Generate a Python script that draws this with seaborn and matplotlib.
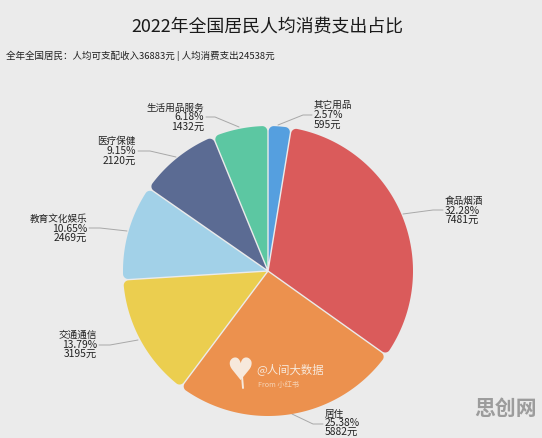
import numpy as np
import matplotlib
matplotlib.use("Agg")
import matplotlib.pyplot as plt
import seaborn as sns

# Data
categories = ["其它用品", "食品烟酒", "居住", "交通通信", "教育文化娱乐", "医疗保健", "生活用品服务"]
values = [595, 7481, 5882, 3195, 2469, 2120, 1432]
percents = ["2.57%", "32.28%", "25.38%", "13.79%", "10.65%", "9.15%", "6.18%"]
colors = ["#559FDF", "#DA5B5B", "#EC914E", "#EBCE4F", "#A2D1E8", "#5B6B93", "#5CC7A2"]

title = "2022年全国居民人均消费支出占比"
subtitle = "全年全国居民：人均可支配收入36883元 | 人均消费支出24538元"

BG = "#EBEBEB"
H = 438

sns.set_theme(style="white")
plt.rcParams["font.family"] = ["Noto Sans CJK SC", "DejaVu Sans"]

fig = plt.figure(figsize=(5.42, 4.38), dpi=100, facecolor=BG)
ax = fig.add_axes([0, 0, 1, 1])

# pie in pixel coordinates, y measured from the bottom
cx, cy, R = 268, H - 271, 145
wedges, _ = ax.pie(values, colors=colors, startangle=90, counterclock=False,
                   center=(cx, cy), radius=R)
ax.set_xlim(0, 542)
ax.set_ylim(0, H)
ax.axis("off")

# rebuild each slice: thin gap, sharp at the centre, rounded at the rim
c = 5.0
gap = 0.7
for w in wedges:
    w.set_visible(False)
    t1, t2 = np.radians(w.theta1), np.radians(w.theta2)
    half = (t2 - t1) / 2
    mid = (t1 + t2) / 2
    tip = gap / np.sin(half)
    a = np.arcsin((c + gap) / (R - c))
    # corner circle next to t1: from the edge round to the rim
    c1 = t1 + a
    arc1 = np.linspace(t1 - np.pi / 2, c1, 12)
    x1 = cx + (R - c) * np.cos(c1) + c * np.cos(arc1)
    y1 = cy + (R - c) * np.sin(c1) + c * np.sin(arc1)
    th = np.linspace(t1 + a, t2 - a, 80)
    c2 = t2 - a
    arc2 = np.linspace(c2, t2 + np.pi / 2, 12)
    x2 = cx + (R - c) * np.cos(c2) + c * np.cos(arc2)
    y2 = cy + (R - c) * np.sin(c2) + c * np.sin(arc2)
    xs = np.r_[cx + tip * np.cos(mid), x1, cx + R * np.cos(th), x2]
    ys = np.r_[cy + tip * np.sin(mid), y1, cy + R * np.sin(th), y2]
    ax.fill(xs, ys, facecolor=w.get_facecolor(), edgecolor="none", zorder=2)

ax.text(267, H - 27, title, fontsize=12.9, color="#1a1a1a", ha="center", va="center")
ax.text(6, H - 56, subtitle, fontsize=6.85, color="#222222", ha="left", va="center")

# label anchor: x, align, y of the three lines, leader line
layout = [
    (314, "left", (105, 115, 125), [(312, 115), (303, 115), (278, 125)]),
    (445, "left", (201, 210.5, 220), [(443, 210), (433, 210), (403, 214)]),
    (325, "left", (414, 423.5, 432), [(323, 424), (313, 424), (292, 414)]),
    (97, "right", (335, 345, 354), [(99, 345), (110, 345), (138, 340)]),
    (87, "right", (219, 228.5, 238), [(89, 228), (100, 228), (127, 231)]),
    (136, "right", (141, 151, 161), [(138, 151), (150, 151), (176, 157)]),
    (204, "right", (108, 117, 127), [(206, 117), (215, 117), (239, 127)]),
]
for name, pct, val, (x, ha, ys, line) in zip(categories, percents, values, layout):
    for y, s, size in zip(ys, [name, pct, f"{val}元"], [6.9, 7.4, 7.4]):
        ax.text(x, H - y, s, fontsize=size, color="#222222", ha=ha, va="center", zorder=4)
    lx, ly = zip(*line)
    ax.plot(lx, [H - v for v in ly], color="#A8A8A8", lw=0.7, zorder=1)

# watermarks
ax.text(240, H - 371, "♥", fontsize=22, color="#F7E9DC", ha="center", va="center",
        family="DejaVu Sans", zorder=5)
ax.plot([242, 243], [H - 376, H - 388], color="#F7E9DC", lw=1.4, zorder=5)
ax.text(256, H - 369, "@人间大数据", fontsize=8.2, color="#F7E9DC", ha="left", va="center", zorder=5)
ax.text(258, H - 385, "From 小红书", fontsize=5.2, color="#F6D3B5", ha="left", va="center", zorder=5)
ax.text(506, H - 408, "思创网", fontsize=15, color="#9C9C9C", fontweight="bold", ha="center", va="center", zorder=5)

fig.savefig("out.png", dpi=100, facecolor=BG)
